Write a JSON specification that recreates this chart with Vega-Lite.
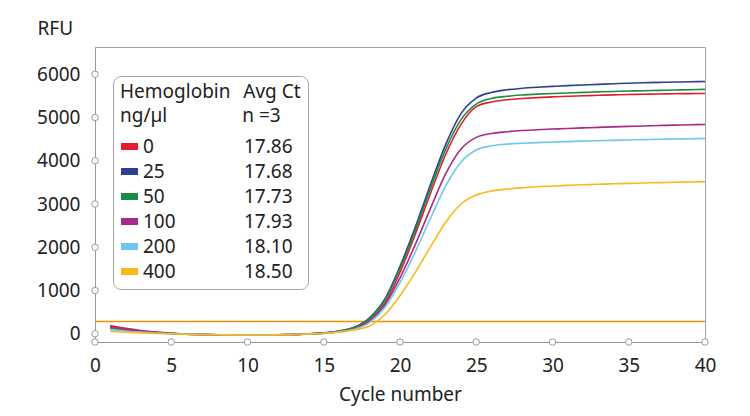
{
  "$schema": "https://vega.github.io/schema/vega-lite/v6.json",
  "width": 610,
  "height": 295,
  "autosize": "none",
  "padding": {"left": 95, "top": 47, "right": 45, "bottom": 74},
  "config": {
    "font": "Noto Sans",
    "view": {"stroke": "#a3a3a3"},
    "axis": {
      "domainColor": "#999999",
      "ticks": false,
      "tickSize": 0,
      "grid": false,
      "labelFlush": false,
      "labelFontSize": 19,
      "labelColor": "#222222",
      "titleFontSize": 19,
      "titleFontWeight": "normal",
      "titleColor": "#222222"
    }
  },
  "layer": [
    {
      "data": {"values": [{"threshold": 285}]},
      "mark": {"type": "rule", "color": "#f39200", "strokeWidth": 1.6, "opacity": 1},
      "encoding": {
        "y": {"field": "threshold", "type": "quantitative"}
      }
    },
    {
      "data": {"values": [
        {"cycle":1,"conc":"0","rfu":190},{"cycle":2,"conc":"0","rfu":125},{"cycle":3,"conc":"0","rfu":75},{"cycle":4,"conc":"0","rfu":38},{"cycle":5,"conc":"0","rfu":12},{"cycle":6,"conc":"0","rfu":-6},{"cycle":7,"conc":"0","rfu":-16},{"cycle":8,"conc":"0","rfu":-22},{"cycle":9,"conc":"0","rfu":-26},{"cycle":10,"conc":"0","rfu":-27},
        {"cycle":11,"conc":"0","rfu":-27},{"cycle":12,"conc":"0","rfu":-24},{"cycle":13,"conc":"0","rfu":-15},{"cycle":14,"conc":"0","rfu":-4},{"cycle":15,"conc":"0","rfu":15},{"cycle":16,"conc":"0","rfu":55},{"cycle":17,"conc":"0","rfu":130},{"cycle":18,"conc":"0","rfu":310},{"cycle":19,"conc":"0","rfu":700},{"cycle":20,"conc":"0","rfu":1420},
        {"cycle":21,"conc":"0","rfu":2300},{"cycle":22,"conc":"0","rfu":3250},{"cycle":23,"conc":"0","rfu":4150},{"cycle":24,"conc":"0","rfu":4840},{"cycle":25,"conc":"0","rfu":5250},{"cycle":26,"conc":"0","rfu":5360},{"cycle":27,"conc":"0","rfu":5410},{"cycle":28,"conc":"0","rfu":5438},{"cycle":29,"conc":"0","rfu":5460},{"cycle":30,"conc":"0","rfu":5476},
        {"cycle":31,"conc":"0","rfu":5490},{"cycle":32,"conc":"0","rfu":5502},{"cycle":33,"conc":"0","rfu":5513},{"cycle":34,"conc":"0","rfu":5523},{"cycle":35,"conc":"0","rfu":5531},{"cycle":36,"conc":"0","rfu":5538},{"cycle":37,"conc":"0","rfu":5544},{"cycle":38,"conc":"0","rfu":5549},{"cycle":39,"conc":"0","rfu":5553},{"cycle":40,"conc":"0","rfu":5556},

        {"cycle":1,"conc":"25","rfu":140},{"cycle":2,"conc":"25","rfu":92},{"cycle":3,"conc":"25","rfu":55},{"cycle":4,"conc":"25","rfu":27},{"cycle":5,"conc":"25","rfu":8},{"cycle":6,"conc":"25","rfu":-8},{"cycle":7,"conc":"25","rfu":-17},{"cycle":8,"conc":"25","rfu":-23},{"cycle":9,"conc":"25","rfu":-26},{"cycle":10,"conc":"25","rfu":-27},
        {"cycle":11,"conc":"25","rfu":-27},{"cycle":12,"conc":"25","rfu":-24},{"cycle":13,"conc":"25","rfu":-15},{"cycle":14,"conc":"25","rfu":-3},{"cycle":15,"conc":"25","rfu":20},{"cycle":16,"conc":"25","rfu":65},{"cycle":17,"conc":"25","rfu":150},{"cycle":18,"conc":"25","rfu":370},{"cycle":19,"conc":"25","rfu":800},{"cycle":20,"conc":"25","rfu":1560},
        {"cycle":21,"conc":"25","rfu":2460},{"cycle":22,"conc":"25","rfu":3450},{"cycle":23,"conc":"25","rfu":4380},{"cycle":24,"conc":"25","rfu":5090},{"cycle":25,"conc":"25","rfu":5450},{"cycle":26,"conc":"25","rfu":5580},{"cycle":27,"conc":"25","rfu":5640},{"cycle":28,"conc":"25","rfu":5675},{"cycle":29,"conc":"25","rfu":5700},{"cycle":30,"conc":"25","rfu":5720},
        {"cycle":31,"conc":"25","rfu":5738},{"cycle":32,"conc":"25","rfu":5753},{"cycle":33,"conc":"25","rfu":5767},{"cycle":34,"conc":"25","rfu":5780},{"cycle":35,"conc":"25","rfu":5792},{"cycle":36,"conc":"25","rfu":5803},{"cycle":37,"conc":"25","rfu":5812},{"cycle":38,"conc":"25","rfu":5820},{"cycle":39,"conc":"25","rfu":5826},{"cycle":40,"conc":"25","rfu":5832},

        {"cycle":1,"conc":"50","rfu":125},{"cycle":2,"conc":"50","rfu":82},{"cycle":3,"conc":"50","rfu":48},{"cycle":4,"conc":"50","rfu":23},{"cycle":5,"conc":"50","rfu":6},{"cycle":6,"conc":"50","rfu":-8},{"cycle":7,"conc":"50","rfu":-17},{"cycle":8,"conc":"50","rfu":-23},{"cycle":9,"conc":"50","rfu":-26},{"cycle":10,"conc":"50","rfu":-27},
        {"cycle":11,"conc":"50","rfu":-27},{"cycle":12,"conc":"50","rfu":-24},{"cycle":13,"conc":"50","rfu":-15},{"cycle":14,"conc":"50","rfu":-3},{"cycle":15,"conc":"50","rfu":18},{"cycle":16,"conc":"50","rfu":62},{"cycle":17,"conc":"50","rfu":145},{"cycle":18,"conc":"50","rfu":350},{"cycle":19,"conc":"50","rfu":770},{"cycle":20,"conc":"50","rfu":1510},
        {"cycle":21,"conc":"50","rfu":2390},{"cycle":22,"conc":"50","rfu":3360},{"cycle":23,"conc":"50","rfu":4270},{"cycle":24,"conc":"50","rfu":4950},{"cycle":25,"conc":"50","rfu":5310},{"cycle":26,"conc":"50","rfu":5440},{"cycle":27,"conc":"50","rfu":5490},{"cycle":28,"conc":"50","rfu":5520},{"cycle":29,"conc":"50","rfu":5540},{"cycle":30,"conc":"50","rfu":5555},
        {"cycle":31,"conc":"50","rfu":5568},{"cycle":32,"conc":"50","rfu":5580},{"cycle":33,"conc":"50","rfu":5592},{"cycle":34,"conc":"50","rfu":5602},{"cycle":35,"conc":"50","rfu":5612},{"cycle":36,"conc":"50","rfu":5620},{"cycle":37,"conc":"50","rfu":5628},{"cycle":38,"conc":"50","rfu":5636},{"cycle":39,"conc":"50","rfu":5643},{"cycle":40,"conc":"50","rfu":5650},

        {"cycle":1,"conc":"100","rfu":165},{"cycle":2,"conc":"100","rfu":108},{"cycle":3,"conc":"100","rfu":64},{"cycle":4,"conc":"100","rfu":32},{"cycle":5,"conc":"100","rfu":10},{"cycle":6,"conc":"100","rfu":-7},{"cycle":7,"conc":"100","rfu":-17},{"cycle":8,"conc":"100","rfu":-23},{"cycle":9,"conc":"100","rfu":-26},{"cycle":10,"conc":"100","rfu":-27},
        {"cycle":11,"conc":"100","rfu":-27},{"cycle":12,"conc":"100","rfu":-24},{"cycle":13,"conc":"100","rfu":-15},{"cycle":14,"conc":"100","rfu":-4},{"cycle":15,"conc":"100","rfu":14},{"cycle":16,"conc":"100","rfu":52},{"cycle":17,"conc":"100","rfu":120},{"cycle":18,"conc":"100","rfu":295},{"cycle":19,"conc":"100","rfu":660},{"cycle":20,"conc":"100","rfu":1290},
        {"cycle":21,"conc":"100","rfu":2060},{"cycle":22,"conc":"100","rfu":2900},{"cycle":23,"conc":"100","rfu":3700},{"cycle":24,"conc":"100","rfu":4270},{"cycle":25,"conc":"100","rfu":4540},{"cycle":26,"conc":"100","rfu":4630},{"cycle":27,"conc":"100","rfu":4670},{"cycle":28,"conc":"100","rfu":4698},{"cycle":29,"conc":"100","rfu":4718},{"cycle":30,"conc":"100","rfu":4733},
        {"cycle":31,"conc":"100","rfu":4747},{"cycle":32,"conc":"100","rfu":4760},{"cycle":33,"conc":"100","rfu":4772},{"cycle":34,"conc":"100","rfu":4783},{"cycle":35,"conc":"100","rfu":4794},{"cycle":36,"conc":"100","rfu":4804},{"cycle":37,"conc":"100","rfu":4814},{"cycle":38,"conc":"100","rfu":4823},{"cycle":39,"conc":"100","rfu":4832},{"cycle":40,"conc":"100","rfu":4840},

        {"cycle":1,"conc":"200","rfu":100},{"cycle":2,"conc":"200","rfu":66},{"cycle":3,"conc":"200","rfu":38},{"cycle":4,"conc":"200","rfu":18},{"cycle":5,"conc":"200","rfu":4},{"cycle":6,"conc":"200","rfu":-9},{"cycle":7,"conc":"200","rfu":-18},{"cycle":8,"conc":"200","rfu":-24},{"cycle":9,"conc":"200","rfu":-26},{"cycle":10,"conc":"200","rfu":-27},
        {"cycle":11,"conc":"200","rfu":-27},{"cycle":12,"conc":"200","rfu":-24},{"cycle":13,"conc":"200","rfu":-16},{"cycle":14,"conc":"200","rfu":-5},{"cycle":15,"conc":"200","rfu":12},{"cycle":16,"conc":"200","rfu":46},{"cycle":17,"conc":"200","rfu":105},{"cycle":18,"conc":"200","rfu":260},{"cycle":19,"conc":"200","rfu":600},{"cycle":20,"conc":"200","rfu":1180},
        {"cycle":21,"conc":"200","rfu":1890},{"cycle":22,"conc":"200","rfu":2670},{"cycle":23,"conc":"200","rfu":3420},{"cycle":24,"conc":"200","rfu":3970},{"cycle":25,"conc":"200","rfu":4250},{"cycle":26,"conc":"200","rfu":4345},{"cycle":27,"conc":"200","rfu":4385},{"cycle":28,"conc":"200","rfu":4405},{"cycle":29,"conc":"200","rfu":4420},{"cycle":30,"conc":"200","rfu":4432},
        {"cycle":31,"conc":"200","rfu":4443},{"cycle":32,"conc":"200","rfu":4453},{"cycle":33,"conc":"200","rfu":4463},{"cycle":34,"conc":"200","rfu":4472},{"cycle":35,"conc":"200","rfu":4481},{"cycle":36,"conc":"200","rfu":4489},{"cycle":37,"conc":"200","rfu":4496},{"cycle":38,"conc":"200","rfu":4503},{"cycle":39,"conc":"200","rfu":4509},{"cycle":40,"conc":"200","rfu":4515},

        {"cycle":1,"conc":"400","rfu":55},{"cycle":2,"conc":"400","rfu":37},{"cycle":3,"conc":"400","rfu":20},{"cycle":4,"conc":"400","rfu":8},{"cycle":5,"conc":"400","rfu":0},{"cycle":6,"conc":"400","rfu":-10},{"cycle":7,"conc":"400","rfu":-18},{"cycle":8,"conc":"400","rfu":-24},{"cycle":9,"conc":"400","rfu":-26},{"cycle":10,"conc":"400","rfu":-27},
        {"cycle":11,"conc":"400","rfu":-27},{"cycle":12,"conc":"400","rfu":-25},{"cycle":13,"conc":"400","rfu":-18},{"cycle":14,"conc":"400","rfu":-8},{"cycle":15,"conc":"400","rfu":6},{"cycle":16,"conc":"400","rfu":35},{"cycle":17,"conc":"400","rfu":90},{"cycle":18,"conc":"400","rfu":180},{"cycle":19,"conc":"400","rfu":440},{"cycle":20,"conc":"400","rfu":880},
        {"cycle":21,"conc":"400","rfu":1420},{"cycle":22,"conc":"400","rfu":2010},{"cycle":23,"conc":"400","rfu":2580},{"cycle":24,"conc":"400","rfu":3000},{"cycle":25,"conc":"400","rfu":3210},{"cycle":26,"conc":"400","rfu":3300},{"cycle":27,"conc":"400","rfu":3345},{"cycle":28,"conc":"400","rfu":3375},{"cycle":29,"conc":"400","rfu":3398},{"cycle":30,"conc":"400","rfu":3416},
        {"cycle":31,"conc":"400","rfu":3431},{"cycle":32,"conc":"400","rfu":3444},{"cycle":33,"conc":"400","rfu":3456},{"cycle":34,"conc":"400","rfu":3467},{"cycle":35,"conc":"400","rfu":3477},{"cycle":36,"conc":"400","rfu":3486},{"cycle":37,"conc":"400","rfu":3495},{"cycle":38,"conc":"400","rfu":3503},{"cycle":39,"conc":"400","rfu":3509},{"cycle":40,"conc":"400","rfu":3515}
      ]},
      "mark": {"type": "line", "interpolate": "monotone", "strokeWidth": 1.6},
      "encoding": {
        "x": {
          "field": "cycle",
          "type": "quantitative",
          "scale": {"domain": [0, 40], "nice": false},
          "axis": {
            "title": "Cycle number",
            "values": [0, 5, 10, 15, 20, 25, 30, 35, 40],
            "labelPadding": 14,
            "titlePadding": 10
          }
        },
        "y": {
          "field": "rfu",
          "type": "quantitative",
          "scale": {"domain": [-190, 6630], "nice": false, "zero": false},
          "axis": {
            "title": "RFU",
            "format": "d",
            "values": [0, 1000, 2000, 3000, 4000, 5000, 6000],
            "labelPadding": 15,
            "titleAngle": 0,
            "titleAlign": "left",
            "titleBaseline": "middle",
            "titleX": -58,
            "titleY": -19
          }
        },
        "color": {
          "field": "conc",
          "type": "nominal",
          "scale": {
            "domain": ["0", "25", "50", "100", "200", "400"],
            "range": ["#e31d2b", "#2f3f8f", "#1a8c45", "#a82a87", "#6cc8ec", "#fbb818"]
          },
          "legend": {
            "orient": "none",
            "legendX": 18,
            "legendY": 29,
            "title": ["Hemoglobin\u2007\u200aAvg Ct", "ng/µl\u2007\u2007\u2007\u2007\u2007\u2007\u00a0\u00a0n =3"],
            "titleFontWeight": "normal",
            "titleFontSize": 19,
            "titleColor": "#222222",
            "titleLineHeight": 24,
            "titleLimit": 400,
            "titlePadding": 11,
            "labelFontSize": 19,
            "labelColor": "#222222",
            "labelLimit": 300,
            "labelOffset": 4,
            "symbolType": "M-1,-0.41L1,-0.41L1,0.41L-1,0.41Z",
            "symbolSize": 289,
            "symbolStrokeWidth": 0,
            "rowPadding": 5,
            "padding": 7,
            "strokeColor": "#a3a3a3",
            "fillColor": "white",
            "cornerRadius": 8,
            "encode": {
              "symbols": {"update": {"fill": {"scale": "color", "field": "value"}, "strokeWidth": {"value": 0}}}
            },
            "labelExpr": "datum.label == '0' ? '0\u2007\u2007\u2007\u2007\u2007\u2007\u2007\u2007\u200917.86' : datum.label == '25' ? '25\u2007\u2007\u2007\u2007\u2007\u2007\u2007\u200917.68' : datum.label == '50' ? '50\u2007\u2007\u2007\u2007\u2007\u2007\u2007\u200917.73' : datum.label == '100' ? '100\u2007\u2007\u2007\u2007\u2007\u2007\u200917.93' : datum.label == '200' ? '200\u2007\u2007\u2007\u2007\u2007\u2007\u200918.10' : '400\u2007\u2007\u2007\u2007\u2007\u2007\u200918.50'"
          }
        }
      }
    },
    {
      "data": {"values": [{"tick": 0}, {"tick": 1000}, {"tick": 2000}, {"tick": 3000}, {"tick": 4000}, {"tick": 5000}, {"tick": 6000}]},
      "mark": {"type": "point", "filled": true, "fill": "white", "stroke": "#999999", "strokeWidth": 1, "size": 42, "opacity": 1},
      "encoding": {
        "x": {"datum": 0, "type": "quantitative"},
        "y": {"field": "tick", "type": "quantitative"}
      }
    },
    {
      "data": {"values": [{"tick": 0}, {"tick": 5}, {"tick": 10}, {"tick": 15}, {"tick": 20}, {"tick": 25}, {"tick": 30}, {"tick": 35}, {"tick": 40}]},
      "mark": {"type": "point", "filled": true, "fill": "white", "stroke": "#999999", "strokeWidth": 1, "size": 42, "opacity": 1},
      "encoding": {
        "x": {"field": "tick", "type": "quantitative"},
        "y": {"datum": -190, "type": "quantitative"}
      }
    }
  ]
}
